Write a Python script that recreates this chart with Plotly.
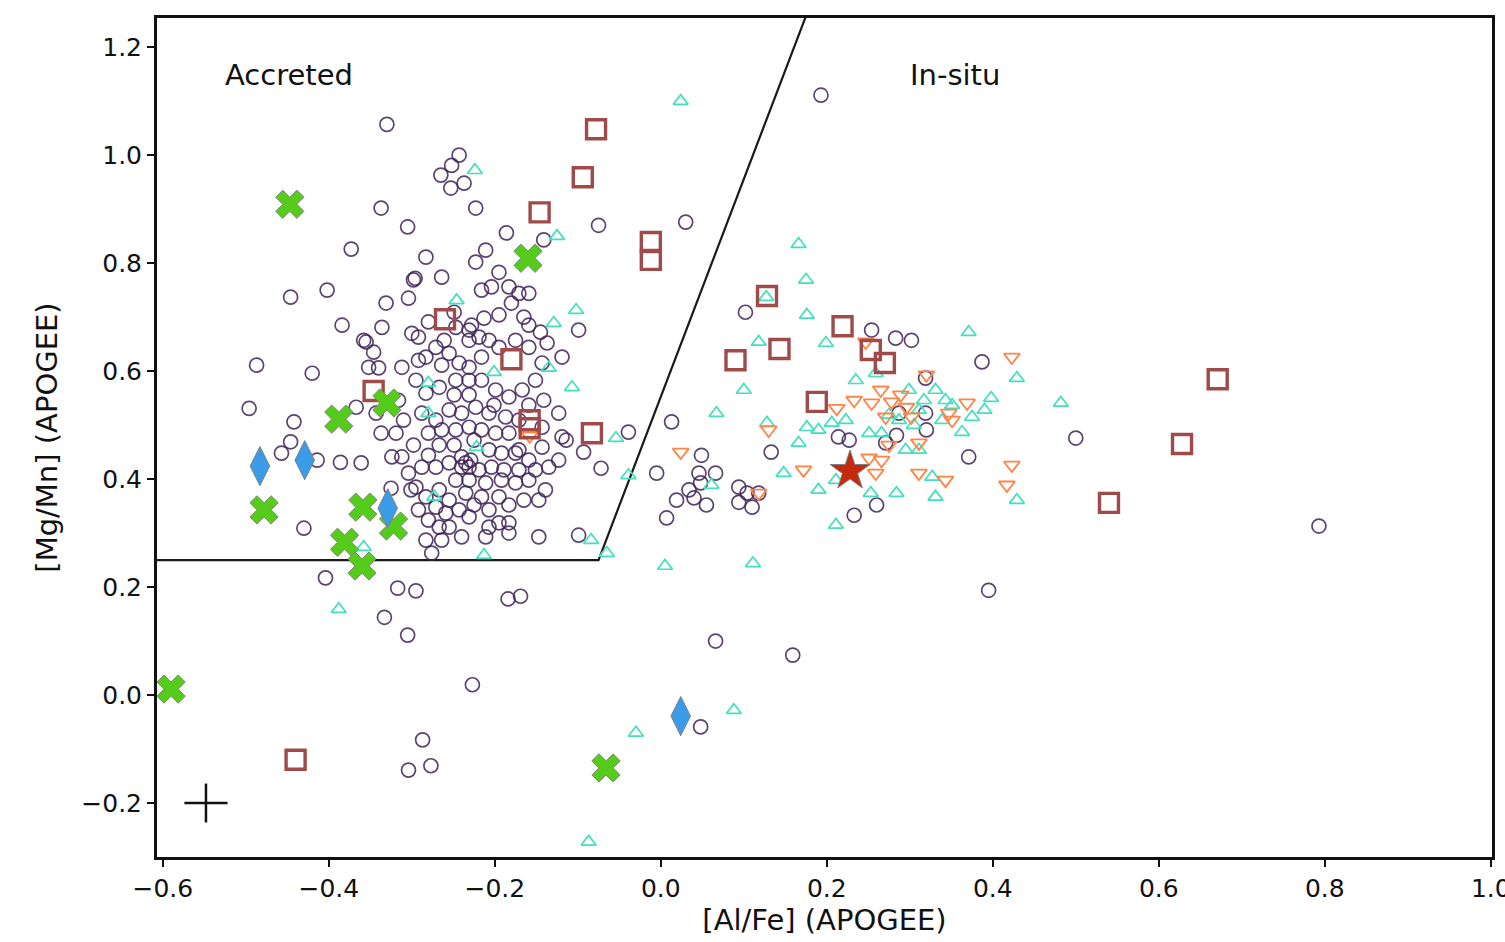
import plotly.graph_objects as go

# ---------------- data ----------------
circ_x = [-0.330, 0.193, 0.030, -0.075, -0.243, -0.252, -0.265, -0.253, -0.237, -0.223,
          -0.337, -0.305, -0.373, -0.186, -0.141, -0.211, -0.223, -0.195, -0.264, -0.283,
          -0.296, -0.446, -0.402, -0.171, -0.159, -0.183, -0.216, -0.331, -0.304, -0.384,
          -0.487, -0.420, -0.496, -0.442, -0.457, -0.446, -0.414, -0.386, -0.361, -0.430,
          -0.355, -0.336, -0.352, -0.340, -0.367, -0.343, -0.337, -0.319, -0.324, -0.312,
          -0.325, -0.301, -0.292, -0.283, -0.295, -0.264, -0.243, -0.231, -0.228, -0.204,
          -0.180, -0.165, -0.145, -0.137, -0.119, -0.099, -0.123, -0.119, -0.093, -0.072,
          -0.039, -0.147, -0.099, -0.276, -0.283, -0.264, -0.231, -0.207, -0.183, -0.195,
          -0.207, -0.259, -0.271, -0.283, -0.295, -0.304, -0.288, -0.271, -0.255, -0.235,
          -0.231, -0.240, -0.219, -0.204, -0.192, -0.175, -0.159, -0.151, -0.159, -0.139,
          -0.147, -0.175, -0.192, -0.211, -0.231, -0.247, -0.267, -0.255, -0.235, -0.216,
          -0.195, -0.255, -0.240, -0.267, -0.211, -0.183, -0.283, -0.267, -0.247, -0.231,
          -0.216, -0.199, -0.183, -0.167, -0.151, -0.143, -0.159, -0.175, -0.195, -0.216,
          -0.231, -0.255, -0.271, -0.247, -0.231, -0.219, -0.207, -0.255, -0.240, -0.223,
          -0.207, -0.187, -0.171, -0.183, -0.199, -0.216, -0.231, -0.247, -0.264, -0.280,
          -0.288, -0.271, -0.143, -0.143, -0.171, -0.135, -0.123, -0.114, 0.102, 0.013,
          -0.005, 0.049, 0.046, 0.066, 0.048, 0.034, 0.019, 0.040, 0.055, 0.007,
          0.094, 0.094, 0.104, 0.110, 0.118, 0.133, 0.214, 0.227, 0.254, 0.283,
          0.302, 0.319, 0.387, 0.319, 0.320, 0.284, 0.271, 0.371, 0.500, 0.233,
          0.260, 0.287, 0.793, 0.395, 0.066, 0.159, 0.048, -0.227, -0.287, -0.304,
          -0.277, -0.333, -0.305, -0.317, -0.295, -0.404, -0.184, -0.169, -0.358, -0.346,
          -0.312, -0.300, -0.292, -0.298, -0.240, -0.229,
          -0.316, -0.310, -0.298, -0.280, -0.267, -0.249, -0.225, -0.207, -0.189, -0.171,
          -0.165, -0.183, -0.243, -0.225, -0.280, -0.292, -0.249, -0.231, -0.201, -0.159,
          -0.141, -0.159, -0.195, -0.213, -0.261, -0.280, -0.249]
circ_y = [1.057, 1.111, 0.876, 0.870, 1.000, 0.981, 0.963, 0.939, 0.948, 0.902,
          0.902, 0.867, 0.826, 0.856, 0.843, 0.824, 0.802, 0.783, 0.774, 0.811,
          0.772, 0.737, 0.750, 0.744, 0.744, 0.756, 0.750, 0.726, 0.735, 0.685,
          0.611, 0.596, 0.531, 0.506, 0.448, 0.469, 0.435, 0.431, 0.430, 0.309,
          0.654, 0.681, 0.607, 0.606, 0.533, 0.522, 0.485, 0.485, 0.441, 0.441,
          0.383, 0.380, 0.663, 0.626, 0.583, 0.611, 0.615, 0.657, 0.685, 0.756,
          0.726, 0.700, 0.672, 0.652, 0.626, 0.676, 0.522, 0.478, 0.450, 0.420,
          0.487, 0.293, 0.296, 0.263, 0.287, 0.287, 0.330, 0.343, 0.319, 0.319,
          0.311, 0.337, 0.348, 0.367, 0.385, 0.411, 0.422, 0.422, 0.430, 0.430,
          0.422, 0.441, 0.417, 0.422, 0.448, 0.448, 0.435, 0.417, 0.398, 0.380,
          0.361, 0.393, 0.398, 0.393, 0.398, 0.398, 0.380, 0.361, 0.374, 0.367,
          0.367, 0.311, 0.293, 0.311, 0.293, 0.300, 0.559, 0.570, 0.583, 0.583,
          0.583, 0.565, 0.552, 0.565, 0.583, 0.615, 0.644, 0.657, 0.644, 0.626,
          0.607, 0.633, 0.644, 0.681, 0.676, 0.663, 0.657, 0.528, 0.522, 0.533,
          0.522, 0.515, 0.509, 0.485, 0.485, 0.491, 0.496, 0.491, 0.491, 0.485,
          0.522, 0.509, 0.496, 0.459, 0.454, 0.422, 0.435, 0.472, 0.709, 0.506,
          0.411, 0.444, 0.411, 0.411, 0.393, 0.380, 0.361, 0.365, 0.352, 0.328,
          0.385, 0.357, 0.374, 0.348, 0.374, 0.450, 0.478, 0.472, 0.676, 0.661,
          0.657, 0.587, 0.617, 0.522, 0.491, 0.481, 0.467, 0.441, 0.476, 0.333,
          0.352, 0.522, 0.313, 0.194, 0.100, 0.074, -0.059, 0.019, -0.083, -0.139,
          -0.131, 0.144, 0.111, 0.198, 0.193, 0.217, 0.178, 0.183, 0.657, 0.635,
          0.607, 0.670, 0.620, 0.769, 0.422, 0.435,
          0.546, 0.509, 0.463, 0.444, 0.463, 0.463, 0.472, 0.454, 0.417, 0.417,
          0.361, 0.352, 0.343, 0.352, 0.324, 0.343, 0.556, 0.556, 0.537, 0.537,
          0.546, 0.685, 0.704, 0.698, 0.657, 0.691, 0.709]

tri_up_x = [-0.224, 0.024, -0.125, -0.246, -0.102, -0.129, -0.201, -0.135, -0.280, -0.280,
            -0.107, -0.054, -0.039, -0.222, -0.273, -0.084, -0.065, -0.213, -0.358, -0.388,
            0.005, 0.111, -0.030, 0.088, -0.087,
            0.166, 0.175, 0.127, 0.176, 0.118, 0.199, 0.371, 0.100, 0.235, 0.259,
            0.067, 0.128, 0.343, 0.398, 0.429, 0.482, 0.176, 0.190, 0.166, 0.206,
            0.223, 0.251, 0.266, 0.287, 0.299, 0.311, 0.331, 0.375, 0.363, 0.339,
            0.295, 0.311, 0.061, 0.148, 0.190, 0.211, 0.253, 0.284, 0.327, 0.331,
            0.429, 0.211, 0.275, 0.305, 0.317, 0.351, 0.390]
tri_up_y = [0.972, 1.100, 0.850, 0.731, 0.713, 0.689, 0.598, 0.606, 0.578, 0.522,
            0.570, 0.476, 0.407, 0.459, 0.367, 0.287, 0.263, 0.259, 0.274, 0.159,
            0.239, 0.244, -0.070, -0.028, -0.272,
            0.835, 0.769, 0.737, 0.704, 0.654, 0.652, 0.672, 0.565, 0.583, 0.596,
            0.522, 0.504, 0.546, 0.550, 0.587, 0.541, 0.496, 0.491, 0.467, 0.504,
            0.509, 0.485, 0.485, 0.509, 0.565, 0.528, 0.565, 0.515, 0.487, 0.509,
            0.454, 0.454, 0.389, 0.411, 0.380, 0.398, 0.374, 0.374, 0.404, 0.367,
            0.361, 0.315, 0.519, 0.500, 0.546, 0.537, 0.528]

tri_down_x = [0.024, 0.130, 0.172, 0.212, 0.233, 0.247, 0.254, 0.265, 0.271, 0.278,
              0.289, 0.296, 0.302, 0.320, 0.311, 0.275, 0.251, 0.266, 0.259, 0.311,
              0.343, 0.347, 0.351, 0.369, 0.423, 0.423, 0.417, 0.118, -0.158]
tri_down_y = [0.450, 0.491, 0.417, 0.531, 0.546, 0.654, 0.541, 0.565, 0.515, 0.543,
              0.556, 0.533, 0.515, 0.593, 0.467, 0.463, 0.439, 0.435, 0.411, 0.411,
              0.398, 0.522, 0.509, 0.541, 0.626, 0.426, 0.389, 0.374, 0.480]

sq_x = [-0.078, -0.094, -0.146, -0.012, -0.012, -0.260, -0.180, -0.346, -0.158, -0.158,
        -0.083, 0.128, 0.090, 0.143, 0.219, 0.253, 0.270, 0.188, 0.671, 0.628,
        0.540, -0.440]
sq_y = [1.048, 0.959, 0.894, 0.839, 0.806, 0.696, 0.622, 0.563, 0.509, 0.494,
        0.485, 0.739, 0.620, 0.641, 0.683, 0.639, 0.615, 0.543, 0.585, 0.465,
        0.356, -0.120]

x_mark_x = [-0.447, -0.160, -0.388, -0.330, -0.478, -0.359, -0.322, -0.381, -0.360, -0.590, -0.066]
x_mark_y = [0.909, 0.809, 0.511, 0.541, 0.343, 0.348, 0.313, 0.283, 0.239, 0.011, -0.135]

dia_x = [-0.483, -0.429, -0.329, 0.024]
dia_y = [0.424, 0.435, 0.346, -0.039]

star_x = [0.228]
star_y = [0.415]

# boundary between accreted and in-situ
bound_x = [-0.70, -0.075, 0.178]
bound_y = [0.25, 0.25, 1.27]

# typical error
err_x, err_y = [-0.548], [-0.20]
err_dx, err_dy = [0.026], [0.036]

x_ticks = [-0.6, -0.4, -0.2, 0.0, 0.2, 0.4, 0.6, 0.8, 1.0]
y_ticks = [-0.2, 0.0, 0.2, 0.4, 0.6, 0.8, 1.0, 1.2]

FONT = "DejaVu Sans"

fig = go.Figure()

fig.add_trace(go.Scatter(x=bound_x, y=bound_y, mode="lines",
                         line=dict(color="#1a1a1a", width=2.2), hoverinfo="skip"))

fig.add_trace(go.Scatter(x=circ_x, y=circ_y, mode="markers",
                         marker=dict(symbol="circle-open", size=14,
                                     line=dict(color="rgba(62,34,88,0.85)", width=1.7),
                                     color="rgba(62,34,88,0.85)")))
fig.add_trace(go.Scatter(x=tri_up_x, y=tri_up_y, mode="markers",
                         marker=dict(symbol="triangle-up-open", size=13,
                                     line=dict(color="#42e0bc", width=1.7), color="#42e0bc")))
fig.add_trace(go.Scatter(x=tri_down_x, y=tri_down_y, mode="markers",
                         marker=dict(symbol="triangle-down-open", size=14,
                                     line=dict(color="#ff8446", width=1.8), color="#ff8446")))
fig.add_trace(go.Scatter(x=sq_x, y=sq_y, mode="markers",
                         marker=dict(symbol="square-open", size=19,
                                     line=dict(color="#a04a4a", width=3.4), color="#a04a4a")))
fig.add_trace(go.Scatter(x=x_mark_x, y=x_mark_y, mode="markers",
                         marker=dict(symbol="x", size=25, color="#55cc1c",
                                     line=dict(color="#7a8a70", width=1))))
fig.add_trace(go.Scatter(x=dia_x, y=dia_y, mode="markers",
                         marker=dict(symbol="diamond-tall", size=28, color="#3a9be8",
                                     line=dict(color="#808080", width=1))))
fig.add_trace(go.Scatter(x=star_x, y=star_y, mode="markers",
                         marker=dict(symbol="star", size=30, color="#c42a10",
                                     line=dict(color="#808080", width=1))))
fig.add_trace(go.Scatter(x=err_x, y=err_y, mode="markers",
                         marker=dict(size=1, color="rgba(0,0,0,0)"),
                         error_x=dict(type="data", array=err_dx, width=0, thickness=2.5, color="#111"),
                         error_y=dict(type="data", array=err_dy, width=0, thickness=2.5, color="#111")))

fig.add_annotation(x=-0.527, y=1.148, text="Accreted", showarrow=False, xanchor="left",
                   yanchor="middle", font=dict(family=FONT, size=29, color="#111"))
fig.add_annotation(x=0.354, y=1.148, text="In-situ", showarrow=False, xanchor="center",
                   yanchor="middle", font=dict(family=FONT, size=29, color="#111"))

axis_common = dict(showgrid=False, zeroline=False, showline=True, mirror=True,
                   linecolor="#111", linewidth=3, ticks="outside", ticklen=7,
                   tickwidth=1.6, tickcolor="#111", ticklabeloverflow="allow",
                   automargin=False,
                   tickfont=dict(family=FONT, size=25, color="#111"))

fig.update_layout(
    width=1505, height=942,
    margin=dict(l=157, r=13, t=18, b=85, autoexpand=False),
    paper_bgcolor="white", plot_bgcolor="white",
    showlegend=False,
    xaxis=dict(range=[-0.607, 1.0015], tickvals=x_ticks,
               ticktext=[f"{v:.1f}".replace("-", "\u2212") for v in x_ticks],
               title=dict(text="[Al/Fe] (APOGEE)", font=dict(family=FONT, size=29, color="#111"),
                          standoff=6),
               **axis_common),
    yaxis=dict(range=[-0.30, 1.254], tickvals=y_ticks,
               ticktext=[f"{v:.1f}".replace("-", "\u2212") for v in y_ticks],
               title=dict(text="[Mg/Mn] (APOGEE)", font=dict(family=FONT, size=29, color="#111"),
                          standoff=16),
               **axis_common),
)

fig.write_html("out.html")
